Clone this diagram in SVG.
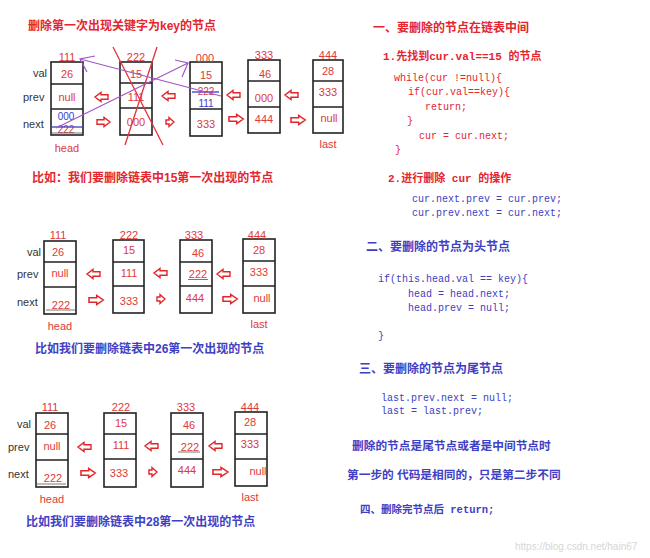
<svg xmlns="http://www.w3.org/2000/svg" width="650" height="558" viewBox="0 0 650 558">
<style>
.bx{fill:#fff;stroke:#222;stroke-width:1.6}
.dv{fill:none;stroke:#222;stroke-width:1.6}
.v{font-family:"Liberation Sans",Arial,sans-serif;font-size:11px;fill:#dd3a3a;text-anchor:middle}
.vb{font-family:"Liberation Sans",Arial,sans-serif;font-size:11px;fill:#3a3ad0;text-anchor:middle}
.sm{font-size:10px}
.lb{font-family:"Liberation Sans",Arial,sans-serif;font-size:11px;fill:#333}
.zh{font-family:"Liberation Sans","Noto Sans CJK SC",sans-serif;font-size:12px;font-weight:bold}
.mx{font-family:"Liberation Mono","Noto Sans CJK SC",monospace;font-size:11px;font-weight:bold}
.cd{font-family:"Liberation Mono",monospace;font-size:10px}
.red{fill:#e3262f}
.blu{fill:#4040c4}
.ar{fill:#fff;stroke:#e3262a;stroke-width:1.4;stroke-linejoin:miter}
.pu{stroke:#a455c8;stroke-width:1.2;fill:none}
.bl{stroke:#3a3ad0;stroke-width:1.3}
.ul{stroke:#555;stroke-width:0.8}
</style>
<defs>
<path id="a" d="M0,-2.2 H7 V-4.5 L13,0 L7,4.5 V2.2 H0 Z"/>
<path id="as" d="M0,-2 H3 V-4.5 L8,0 L3,4.5 V2 H0 Z"/>
</defs>

<!-- titles / captions -->
<text class="zh red" x="28" y="29.5">删除第一次出现关键字为key的节点</text>
<text class="zh red" x="32" y="182">比如：我们要删除链表中15第一次出现的节点</text>
<text class="zh blu" x="35" y="352.5">比如我们要删除链表中26第一次出现的节点</text>
<text class="zh blu" x="26" y="525.5">比如我们要删除链表中28第一次出现的节点</text>

<!-- row labels -->
<g id="labels-top">
<text class="lb" x="33" y="77">val</text>
<text class="lb" x="23" y="101">prev</text>
<text class="lb" x="23" y="128">next</text>
</g>
<g id="labels-mid">
<text class="lb" x="27" y="256">val</text>
<text class="lb" x="17" y="278">prev</text>
<text class="lb" x="17" y="306">next</text>
</g>
<g id="labels-bot">
<text class="lb" x="17" y="428">val</text>
<text class="lb" x="8" y="451">prev</text>
<text class="lb" x="8" y="478">next</text>
</g>

<!-- TOP DIAGRAM -->
<g id="t-n1">
<rect class="bx" x="51" y="62" width="32" height="73"/>
<path class="dv" d="M51,84H83M51,109H83"/>
<text class="v" x="67" y="61">111</text>
<text class="v" x="67" y="78">26</text>
<text class="v" x="67" y="101">null</text>
<text class="vb sm" x="66" y="120">000</text>
<text class="v sm" x="66" y="132.5">222</text>
<line class="bl" x1="52" y1="127" x2="82" y2="127"/>
<line class="ul" x1="52" y1="133" x2="82" y2="133"/>
<text class="v" x="67" y="152">head</text>
</g>
<g id="t-n2">
<rect class="bx" x="120" y="62" width="32" height="73"/>
<path class="dv" d="M120,83H152M120,108H152"/>
<text class="v" x="136" y="61">222</text>
<text class="v" x="136" y="78">15</text>
<text class="v" x="136" y="101">111</text>
<text class="v" x="136" y="126">000</text>
<line x1="113" y1="47" x2="163" y2="145" stroke="#e8303a" stroke-width="1.3"/>
<line x1="157" y1="47" x2="125" y2="145" stroke="#e8303a" stroke-width="1.3"/>
</g>
<g id="t-n3">
<rect class="bx" x="190" y="62" width="32" height="74"/>
<path class="dv" d="M190,83H222M190,109H222"/>
<text class="v" x="205" y="62">000</text>
<text class="v" x="206" y="79">15</text>
<text class="v sm" x="206" y="95">222</text>
<line class="bl" x1="192" y1="92" x2="219" y2="92"/>
<text class="vb sm" x="206" y="107">111</text>
<text class="v" x="206" y="128">333</text>
</g>
<g id="t-n4">
<rect class="bx" x="248" y="60" width="32" height="73"/>
<path class="dv" d="M248,81H280M248,107H280"/>
<text class="v" x="264" y="59">333</text>
<text class="v" x="265" y="78">46</text>
<text class="v" x="264" y="102">000</text>
<text class="v" x="264" y="123">444</text>
</g>
<g id="t-n5">
<rect class="bx" x="313" y="60" width="30" height="73"/>
<path class="dv" d="M313,81H343M313,107H343"/>
<text class="v" x="328" y="59">444</text>
<text class="v" x="328" y="75">28</text>
<text class="v" x="328" y="96">333</text>
<text class="v" x="329" y="122">null</text>
<text class="v" x="328" y="148">last</text>
</g>

<!-- MIDDLE DIAGRAM -->
<g id="m-n1">
<rect class="bx" x="44" y="241" width="32" height="73"/>
<path class="dv" d="M44,262H76M44,287H76"/>
<text class="v" x="58" y="239">111</text>
<text class="v" x="58" y="256">26</text>
<text class="v" x="60" y="277">null</text>
<text class="v" x="61" y="309">222</text>
<line class="ul" x1="46" y1="310" x2="75" y2="310"/>
<text class="v" x="60" y="330">head</text>
</g>
<g id="m-n2">
<rect class="bx" x="113" y="240" width="31" height="73"/>
<path class="dv" d="M113,262H144M113,286H144"/>
<text class="v" x="129" y="239">222</text>
<text class="v" x="129" y="254">15</text>
<text class="v" x="129" y="277">111</text>
<text class="v" x="129" y="305">333</text>
</g>
<g id="m-n3">
<rect class="bx" x="180" y="240" width="32" height="73"/>
<path class="dv" d="M180,262H212M180,286H212"/>
<text class="v" x="194" y="239">333</text>
<text class="v" x="198" y="257">46</text>
<text class="v" x="198" y="278">222</text>
<line class="ul" x1="188" y1="279.5" x2="208" y2="279.5"/>
<text class="v" x="195" y="302">444</text>
</g>
<g id="m-n4">
<rect class="bx" x="243" y="239" width="32" height="74"/>
<path class="dv" d="M243,261H275M243,286H275"/>
<text class="v" x="257" y="239">444</text>
<text class="v" x="259" y="254">28</text>
<text class="v" x="259" y="276">333</text>
<text class="v" x="262" y="302">null</text>
<text class="v" x="259" y="328">last</text>
</g>

<!-- BOTTOM DIAGRAM -->
<g id="b-n1">
<rect class="bx" x="36" y="413" width="32" height="74"/>
<path class="dv" d="M36,434H68M36,460H68"/>
<text class="v" x="50" y="411">111</text>
<text class="v" x="50" y="429">26</text>
<text class="v" x="52" y="450">null</text>
<text class="v" x="53" y="482">222</text>
<line class="ul" x1="37" y1="484" x2="66" y2="484"/>
<text class="v" x="52" y="503">head</text>
</g>
<g id="b-n2">
<rect class="bx" x="104" y="413" width="32" height="74"/>
<path class="dv" d="M104,434H136M104,459H136"/>
<text class="v" x="121" y="411">222</text>
<text class="v" x="121" y="427">15</text>
<text class="v" x="121" y="449">111</text>
<text class="v" x="119" y="477">333</text>
</g>
<g id="b-n3">
<rect class="bx" x="171" y="413" width="32" height="74"/>
<path class="dv" d="M171,434H203M171,459H203"/>
<text class="v" x="186" y="411">333</text>
<text class="v" x="189" y="429">46</text>
<text class="v" x="190" y="451">222</text>
<line class="ul" x1="178" y1="452" x2="200" y2="452"/>
<text class="v" x="187" y="474">444</text>
</g>
<g id="b-n4">
<rect class="bx" x="235" y="412" width="32" height="74"/>
<path class="dv" d="M235,434H267M235,459H267"/>
<text class="v" x="250" y="411">444</text>
<text class="v" x="250" y="426">28</text>
<text class="v" x="250" y="448">333</text>
<text class="v" x="258" y="475">null</text>
<text class="v" x="250" y="501">last</text>
</g>

<!-- connectors -->
<g id="connectors">
<use href="#a" class="ar" transform="translate(108,97) scale(-1,1)"/>
<use href="#a" class="ar" transform="translate(175,96) scale(-1,1)"/>
<use href="#a" class="ar" transform="translate(240,95) scale(-1,1)"/>
<use href="#a" class="ar" transform="translate(298,95) scale(-1,1)"/>
<use href="#a" class="ar" transform="translate(97,122)"/>
<use href="#as" class="ar" transform="translate(166,122)"/>
<use href="#a" class="ar" transform="translate(229,119) scale(1.1,1)"/>
<use href="#a" class="ar" transform="translate(291,120) scale(1.1,1)"/>
<use href="#a" class="ar" transform="translate(100,274) scale(-1,1)"/>
<use href="#a" class="ar" transform="translate(167,273) scale(-1,1)"/>
<use href="#a" class="ar" transform="translate(230,274) scale(-1,1)"/>
<use href="#a" class="ar" transform="translate(89,300) scale(1.1,1)"/>
<use href="#as" class="ar" transform="translate(157,299)"/>
<use href="#a" class="ar" transform="translate(223,299) scale(1.1,1)"/>
<use href="#a" class="ar" transform="translate(91,447) scale(-1,1)"/>
<use href="#a" class="ar" transform="translate(158,446) scale(-1,1)"/>
<use href="#a" class="ar" transform="translate(222,446) scale(-1,1)"/>
<use href="#a" class="ar" transform="translate(81,473) scale(1.1,1)"/>
<use href="#as" class="ar" transform="translate(149,472)"/>
<use href="#a" class="ar" transform="translate(213,472) scale(1.15,1)"/>
<path class="pu" d="M56,128 L188,63 M175,60 L188,63 L182,77"/>
<path class="pu" d="M221,96 L80,59 M95,56 L80,59 L87,72"/>
</g>

<!-- right-hand explanation -->
<g id="notes">
<text class="zh red" x="373" y="31.5">一、要删除的节点在链表中间</text>
<text class="mx red" x="383" y="60">1.先找到cur.val==15 的节点</text>
<text class="cd red" x="394" y="81">while(cur !=null){</text>
<text class="cd red" x="408" y="95">if(cur.val==key){</text>
<text class="cd red" x="425" y="110">return;</text>
<text class="cd red" x="407" y="124">}</text>
<text class="cd red" x="419" y="139">cur = cur.next;</text>
<text class="cd red" x="395" y="153">}</text>
<text class="mx red" x="388" y="182">2.进行删除 cur 的操作</text>
<text class="cd blu" x="412" y="201.5">cur.next.prev = cur.prev;</text>
<text class="cd blu" x="412" y="215.5">cur.prev.next = cur.next;</text>

<text class="zh blu" x="366" y="251">二、要删除的节点为头节点</text>
<text class="cd blu" x="378" y="281.5">if(this.head.val == key){</text>
<text class="cd blu" x="408" y="296.5">head = head.next;</text>
<text class="cd blu" x="408" y="310.5">head.prev = null;</text>
<text class="cd blu" x="378" y="338.5">}</text>

<text class="zh blu" x="359" y="372.5">三、要删除的节点为尾节点</text>
<text class="cd blu" x="381" y="400.5">last.prev.next = null;</text>
<text class="cd blu" x="381" y="414">last = last.prev;</text>

<text class="zh blu" x="352" y="449.5" style="font-size:11.7px">删除的节点是尾节点或者是中间节点时</text>
<text class="zh blu" x="347" y="478.5" style="font-size:11.7px">第一步的 代码是相同的，只是第二步不同</text>
<text class="mx blu" x="360" y="512.5" style="font-size:10.5px">四、删除完节点后 return;</text>
</g>
<text x="515" y="550" style="font-family:'Liberation Sans',sans-serif;font-size:10px;fill:#d6d6d6">https://blog.csdn.net/hain67</text>
</svg>
